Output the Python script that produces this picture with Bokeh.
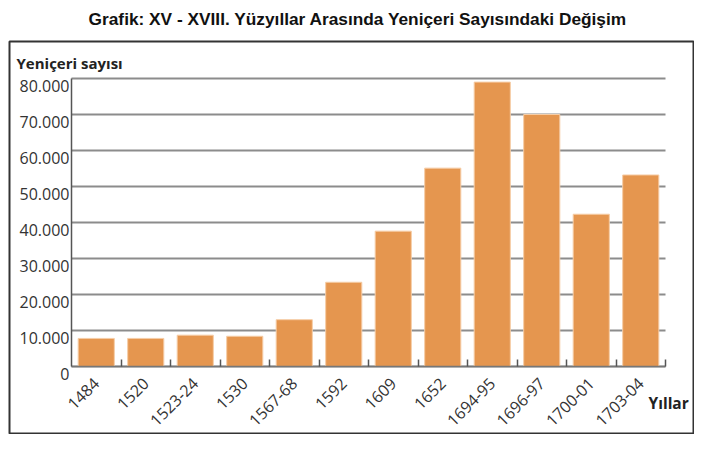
import math
from bokeh.plotting import figure
from bokeh.models import (Range1d, FixedTicker, Label, ColumnDataSource,
                          LinearAxis)
from bokeh.embed import file_html
from bokeh.resources import INLINE

# ---- data ----
years = ["1484", "1520", "1523-24", "1530", "1567-68", "1592", "1609",
         "1652", "1694-95", "1696-97", "1700-01", "1703-04"]
counts = [7800, 7800, 8700, 8400, 13000, 23400, 37600,
          55100, 79000, 70000, 42300, 53200]
y_ticks = [0, 10000, 20000, 30000, 40000, 50000, 60000, 70000, 80000]
y_tick_labels = ["0", "10.000", "20.000", "30.000", "40.000",
                 "50.000", "60.000", "70.000", "80.000"]
title_text = "Grafik: XV - XVIII. Yüzyıllar Arasında Yeniçeri Sayısındaki Değişim"
y_title = "Yeniçeri sayısı"
x_title = "Yıllar"

n = len(years)
YMAX = y_ticks[-1]
centers = [i + 0.5 for i in range(n)]
src = ColumnDataSource(dict(x=centers, top=counts, name=years))

# pixel layout (figure coords): plot area x 71..665, y 366 (0) .. 78 (80000)
PX = (665 - 71) / n
PY = (366 - 78) / YMAX
def dx(px):
    return (px - 71) / PX
def dy(py):
    return (366 - py) / PY

W, H = 694, 434
BOX_L, BOX_R, BOX_T, BOX_B = 9, 693, 41, 433
LABEL_DROP = 7.5 / PY   # tick labels sit slightly below their grid lines

p = figure(width=W, height=H, output_backend="svg", toolbar_location=None,
           x_range=Range1d(dx(0), dx(W)), y_range=Range1d(dy(H), dy(0)),
           x_axis_location=None, y_axis_location=None,
           min_border=0,
           background_fill_color="white", border_fill_color="white")
p.outline_line_color = None
p.xgrid.visible = False
p.ygrid.visible = False

# surrounding frame box
p.quad(left=[dx(BOX_L)], right=[dx(BOX_R)], top=[dy(BOX_T)], bottom=[dy(BOX_B)],
       fill_color=None, line_color="#333333", line_width=2)

# horizontal grid lines over the plot area
p.segment(x0=[0] * len(y_ticks), x1=[n] * len(y_ticks), y0=y_ticks, y1=y_ticks,
          line_color="#8c8c8c", line_width=2)

p.vbar(x="x", top="top", width=0.73, source=src,
       fill_color="#E5964F", line_color="#F6CDA6", line_width=1)

# y axis line (fixed at x = 0)
yline = LinearAxis(fixed_location=0, bounds=(0, YMAX),
                   ticker=FixedTicker(ticks=[]))
yline.major_tick_line_color = None
yline.minor_tick_line_color = None
yline.major_label_text_font_size = "0px"
yline.axis_line_color = "#555555"
yline.axis_line_width = 1.5
p.add_layout(yline, "left")

# y tick labels (placed just below each grid line, as in the original)
label_pos = [t - LABEL_DROP for t in y_ticks]
ylab = LinearAxis(fixed_location=0, bounds=(-LABEL_DROP * 1.5, YMAX),
                  ticker=FixedTicker(ticks=label_pos))
ylab.major_label_overrides = {t: l for t, l in zip(label_pos, y_tick_labels)}
ylab.major_label_text_font = "Open Sans"
ylab.major_label_text_font_size = "16px"
ylab.major_label_text_color = "#333333"
ylab.major_tick_line_color = None
ylab.minor_tick_line_color = None
ylab.major_tick_out = 0
ylab.major_label_standoff = 2
ylab.axis_line_color = None
p.add_layout(ylab, "left")

# x axis (fixed at y = 0)
xax = LinearAxis(fixed_location=0, bounds=(0, n),
                 ticker=FixedTicker(ticks=centers,
                                    minor_ticks=list(range(1, n + 1))))
xax.major_label_overrides = {c: y for c, y in zip(centers, years)}
xax.major_label_orientation = math.pi / 4
xax.major_label_text_font = "Open Sans"
xax.major_label_text_font_size = "16px"
xax.major_label_text_color = "#333333"
xax.major_tick_line_color = None
xax.minor_tick_line_color = "#555555"
xax.minor_tick_line_width = 1.5
xax.minor_tick_in = 7
xax.minor_tick_out = 0
xax.major_label_standoff = 8
xax.axis_line_color = "#777777"
xax.axis_line_width = 1.5
p.add_layout(xax, "below")

p.add_layout(Label(x=dx(357.5), y=dy(18.5), text=title_text,
                   text_font="Liberation Sans", text_font_style="bold",
                   text_font_size="17.3px", text_color="#111111",
                   text_align="center", text_baseline="alphabetic"))
p.add_layout(Label(x=dx(16), y=dy(62), text=y_title, text_font="Open Sans",
                   text_font_style="bold", text_font_size="15px",
                   text_color="#222222", text_align="left",
                   text_baseline="alphabetic"))
p.add_layout(Label(x=dx(648), y=dy(402), text=x_title, text_font="Open Sans",
                   text_font_style="bold", text_font_size="15.5px",
                   text_color="#222222", text_align="left",
                   text_baseline="alphabetic"))

open("out.html", "w").write(file_html(p, INLINE))
